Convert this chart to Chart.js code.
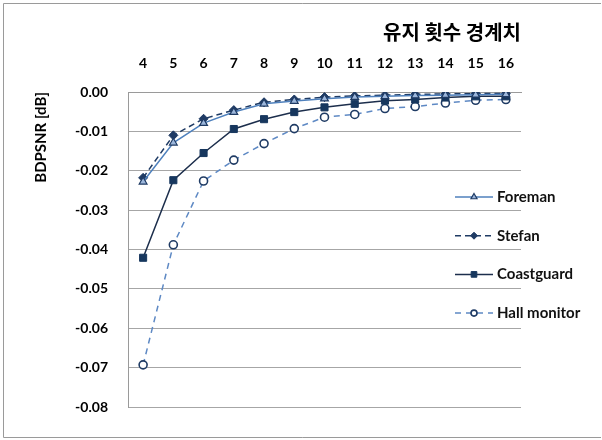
<!DOCTYPE html>
<html>
<head>
<meta charset="utf-8">
<script src="https://cdn.jsdelivr.net/npm/chart.js@4.4.1/dist/chart.umd.min.js"></script>
<style>
  html, body { margin: 0; padding: 0; background: #fff; }
  #wrap { width: 602px; height: 440px; }
</style>
</head>
<body>
<div id="wrap"><canvas id="chart" width="602" height="440"></canvas></div>
<script>
// ---- data ----
const thresholds = ['4', '5', '6', '7', '8', '9', '10', '11', '12', '13', '14', '15', '16'];
const foreman    = [-0.0228, -0.0129, -0.0079, -0.0051, -0.0030, -0.0023, -0.0017, -0.0013, -0.0011, -0.0009, -0.0008, -0.0007, -0.0006];
const stefan     = [-0.0218, -0.0110, -0.0068, -0.0046, -0.0026, -0.0019, -0.0013, -0.0010, -0.0008, -0.0006, -0.0005, -0.0004, -0.0004];
const coastguard = [-0.0421, -0.0224, -0.0155, -0.0094, -0.0069, -0.0051, -0.0039, -0.0030, -0.0022, -0.0019, -0.0014, -0.0011, -0.0011];
const hallMonitor= [-0.0693, -0.0388, -0.0226, -0.0173, -0.0131, -0.0093, -0.0064, -0.0057, -0.0042, -0.0037, -0.0028, -0.0021, -0.0019];

const FONT = "Lato, 'Noto Sans', sans-serif";

// outer frame like the original figure
const framePlugin = {
    id: 'frame',
    beforeDraw(chart) {
        const c = chart.ctx;
        c.save();
        c.strokeStyle = '#9a9a9a';
        c.lineWidth = 1;
        c.beginPath();
        c.moveTo(601, 3.5);
        c.lineTo(3.5, 3.5);
        c.lineTo(3.5, 437.5);
        c.lineTo(601, 437.5);
        c.stroke();
        c.restore();
    }
};

// legend drawn over the right part of the plot (Excel style)
const sideLegend = {
    id: 'sideLegend',
    afterDatasetsDraw(chart) {
        const c = chart.ctx;
        const x0 = 455, x1 = 493, tx = 497;
        let y = 197;
        chart.data.datasets.forEach(ds => {
            c.save();
            c.strokeStyle = ds.borderColor;
            c.lineWidth = ds.borderWidth;
            c.setLineDash(ds.borderDash || []);
            c.beginPath();
            c.moveTo(x0, y);
            c.lineTo(x1, y);
            c.stroke();
            c.setLineDash([]);
            c.fillStyle = ds.pointBackgroundColor;
            c.strokeStyle = ds.pointBorderColor;
            c.lineWidth = ds.pointBorderWidth;
            Chart.helpers.drawPoint(c, {
                pointStyle: ds.pointStyle,
                radius: ds.pointRadius - 1,
                borderWidth: ds.pointBorderWidth
            }, (x0 + x1) / 2, y);
            c.fillStyle = '#111';
            c.font = 'bold 15px ' + FONT;
            c.textBaseline = 'middle';
            c.textAlign = 'left';
            c.fillText(ds.label, tx, y);
            c.restore();
            y += 38.7;
        });
    }
};

new Chart(document.getElementById('chart'), {
    type: 'line',
    data: {
        labels: thresholds,
        datasets: [
            { label: 'Foreman', data: foreman, borderColor: '#4F81BD', borderWidth: 1.5,
              pointStyle: 'triangle', pointRadius: 4.5, pointBorderWidth: 1.2,
              pointBackgroundColor: '#9DB7DB', pointBorderColor: '#1F3B64' },
            { label: 'Stefan', data: stefan, borderColor: '#1F3B64', borderWidth: 1.5, borderDash: [6, 4],
              pointStyle: 'rectRot', pointRadius: 4.5, pointBorderWidth: 1,
              pointBackgroundColor: '#1F3B64', pointBorderColor: '#1F3B64' },
            { label: 'Coastguard', data: coastguard, borderColor: '#1C2E4C', borderWidth: 1.5,
              pointStyle: 'rect', pointRadius: 5, pointBorderWidth: 1,
              pointBackgroundColor: '#17375E', pointBorderColor: '#17375E' },
            { label: 'Hall monitor', data: hallMonitor, borderColor: '#5E89C4', borderWidth: 1.5, borderDash: [6, 5],
              pointStyle: 'circle', pointRadius: 4, pointBorderWidth: 1.6,
              pointBackgroundColor: '#ffffff', pointBorderColor: '#1F3B64' }
        ]
    },
    options: {
        responsive: false,
        animation: false,
        devicePixelRatio: 1,
        layout: { padding: { left: 0, top: 0, right: 81, bottom: 33 } },
        plugins: {
            legend: { display: false },
            tooltip: { enabled: false }
        },
        elements: { line: { tension: 0, fill: false } },
        scales: {
            x: {
                position: 'top',
                offset: true,
                grid: { display: false, drawTicks: false, offset: true },
                border: { display: true, color: '#9a9a9a' },
                ticks: { color: '#000', font: { family: FONT, size: 14, weight: 'bold' }, padding: 20, maxRotation: 0 },
                title: {
                    display: true, text: '유지 횟수 경계치', align: 'end',
                    color: '#000', font: { family: "'Noto Sans CJK KR', sans-serif", size: 20, weight: 'bold' },
                    padding: { top: 20, bottom: 0 }
                },
                afterFit(scale) { scale.height = 92; }
            },
            y: {
                min: -0.08, max: 0,
                grid: { color: '#a6a6a6', drawTicks: false },
                border: { display: true, color: '#9a9a9a' },
                ticks: {
                    stepSize: 0.01, color: '#000', padding: 20,
                    font: { family: FONT, size: 14, weight: 'bold' },
                    callback: v => v.toFixed(2)
                },
                title: {
                    display: true, text: 'BDPSNR [dB]', align: 'end',
                    color: '#000', font: { family: FONT, size: 15, weight: 'bold' },
                    padding: { top: 32, bottom: 0 }
                },
                afterFit(scale) { scale.width = 128; }
            }
        }
    },
    plugins: [framePlugin, sideLegend]
});
</script>
</body>
</html>
